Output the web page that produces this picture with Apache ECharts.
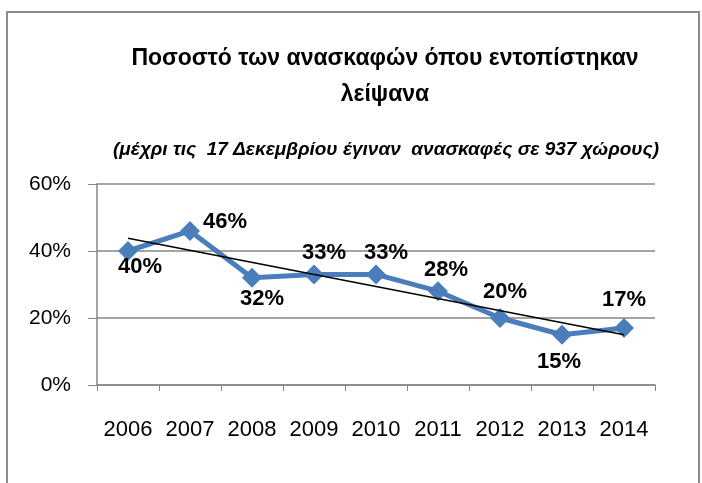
<!DOCTYPE html>
<html>
<head>
<meta charset="utf-8">
<script src="https://cdn.jsdelivr.net/npm/echarts@6/dist/echarts.min.js"></script>
<style>
  html, body { margin: 0; padding: 0; background: #fff; }
  #chart { width: 702px; height: 483px; }
</style>
</head>
<body>
<div id="chart"></div>
<script>
// data
const years = ['2006', '2007', '2008', '2009', '2010', '2011', '2012', '2013', '2014'];
const shares = [40, 46, 32, 33, 33, 28, 20, 15, 17];
// linear trendline, its two ends as drawn (first and last year)
const trendEnds = [43.8, 15.0];
const yTicks = [0, 20, 40, 60];

// where each data label sits relative to its marker (px)
const labelOffsets = [[12, 16], [35, -9], [10, 21], [10, -22], [10, -22], [8, -21], [5, -26], [-3, 27], [0, -28]];

const FONT = '"Liberation Sans", Arial, sans-serif';

const chart = echarts.init(document.getElementById('chart'));

const trendData = years.map((y, i) => {
  if (i === 0) return trendEnds[0];
  if (i === years.length - 1) return trendEnds[1];
  return null;
});

const option = {
  animation: false,
  title: [
    {
      text: 'Ποσοστό των ανασκαφών όπου εντοπίστηκαν\nλείψανα',
      left: 380,
      textAlign: 'center',
      top: 36,
      textStyle: { fontFamily: FONT, fontSize: 23, fontWeight: 'bold', color: '#000', lineHeight: 36 }
    },
    {
      text: '(μέχρι τις  17 Δεκεμβρίου έγιναν  ανασκαφές σε 937 χώρους)',
      left: 381,
      textAlign: 'center',
      top: 135,
      textStyle: { fontFamily: FONT, fontSize: 19, fontWeight: 'bold', fontStyle: 'italic', color: '#000' }
    }
  ],
  graphic: [{
    type: 'rect',
    shape: { x: 7, y: 12, width: 692, height: 520 },
    style: { fill: 'none', stroke: '#8c8c8c', lineWidth: 2 },
    silent: true
  }],
  grid: { left: 97, right: 47, top: 184, bottom: 98 },
  xAxis: {
    type: 'category',
    data: years,
    boundaryGap: true,
    axisLine: { lineStyle: { color: '#868686', width: 1.5 } },
    axisTick: { show: true, alignWithLabel: false, interval: 0, length: 6, lineStyle: { color: '#868686' } },
    axisLabel: { interval: 0, fontFamily: FONT, fontSize: 22, color: '#000', margin: 34 }
  },
  yAxis: {
    type: 'value',
    min: yTicks[0],
    max: yTicks[yTicks.length - 1],
    interval: 20,
    axisLine: { show: true, lineStyle: { color: '#868686', width: 1.5 } },
    axisTick: { show: true, length: 9, lineStyle: { color: '#868686' } },
    splitLine: { lineStyle: { color: '#868686', width: 1.5 } },
    axisLabel: { fontFamily: FONT, fontSize: 21, color: '#000', margin: 26, formatter: v => v + '%' }
  },
  series: [
    {
      type: 'line',
      data: shares.map((v, i) => ({
        value: v,
        label: { offset: labelOffsets[i] }
      })),
      symbol: 'diamond',
      symbolSize: 20,
      lineStyle: { color: '#4A7EBB', width: 5 },
      itemStyle: { color: '#4A7EBB' },
      label: {
        show: true,
        position: 'inside',
        fontFamily: FONT,
        fontSize: 22,
        fontWeight: 'bold',
        color: '#000',
        formatter: p => p.value + '%'
      },
      z: 2
    },
    {
      type: 'line',
      data: trendData,
      connectNulls: true,
      symbol: 'none',
      lineStyle: { color: '#000', width: 1.5 },
      z: 3,
      silent: true
    }
  ]
};

chart.setOption(option);
</script>
</body>
</html>
